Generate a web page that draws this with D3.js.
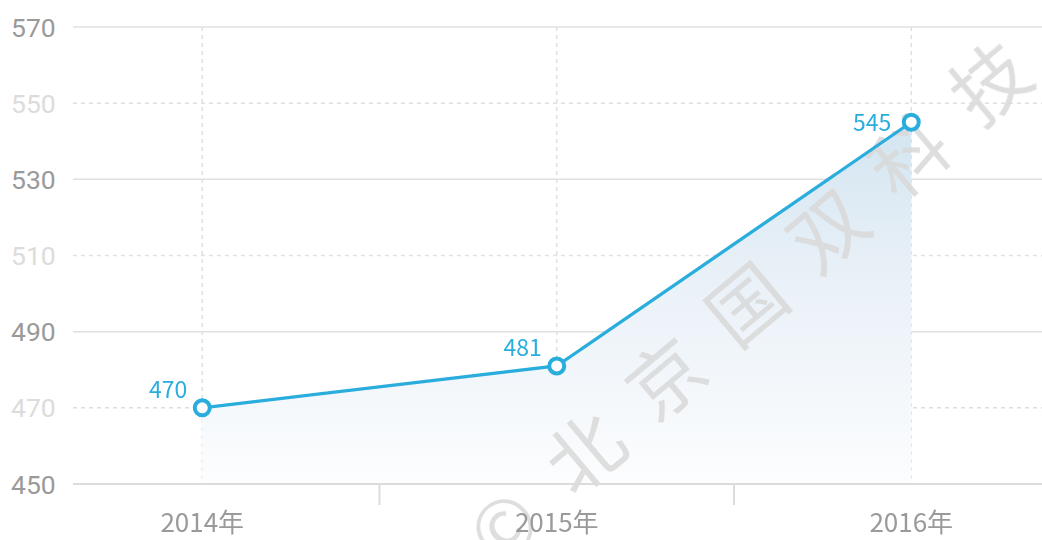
<!DOCTYPE html>
<meta charset="utf-8">
<style>
body { margin: 0; background: #fff; }
svg { font-family: "Noto Sans CJK SC", "Noto Sans", sans-serif; }
</style>
<body>
<svg width="1042" height="540"></svg>
<script src="https://cdn.jsdelivr.net/npm/d3@7"></script>
<script>

var years = ["2014年", "2015年", "2016年"];
var values = [470, 481, 545];
var yTicks = [450, 470, 490, 510, 530, 550, 570];
var watermark = "©北京国双科技";

var svg = d3.select("svg"),
    width = +svg.attr("width"),
    height = +svg.attr("height");

var gridLeft = 73, gridRight = 1042;

var x = d3.scaleBand().domain(years).range([25, 1088.5]);
var y = d3.scaleLinear().domain([450, 570]).range([484, 27]);

function cx(d) { return x(d) + x.bandwidth() / 2; }

// gradient for area
var defs = svg.append("defs");
var grad = defs.append("linearGradient")
    .attr("id", "areaGrad")
    .attr("gradientUnits", "userSpaceOnUse")
    .attr("x1", 0).attr("y1", y(545)).attr("x2", 0).attr("y2", y(450));
grad.append("stop").attr("offset", "0%").attr("stop-color", "#d3e5f1");
grad.append("stop").attr("offset", "40%").attr("stop-color", "#e8f0f7");
grad.append("stop").attr("offset", "100%").attr("stop-color", "#fcfdfe");

// horizontal grid
svg.append("g").selectAll("line")
  .data(yTicks)
  .enter().append("line")
    .attr("x1", gridLeft).attr("x2", gridRight)
    .attr("y1", function(d) { return y(d); })
    .attr("y2", function(d) { return y(d); })
    .attr("stroke", "#e0e0e0")
    .attr("stroke-width", 1.5)
    .attr("stroke-dasharray", function(d) { return (d - 450) % 40 === 0 ? null : "4,4"; });

// vertical dashed grid
svg.append("g").selectAll("line")
  .data(years)
  .enter().append("line")
    .attr("x1", cx).attr("x2", cx)
    .attr("y1", y(570)).attr("y2", y(450))
    .attr("stroke", "#e0e0e0")
    .attr("stroke-width", 1.5)
    .attr("stroke-dasharray", "4,4");

// y labels
svg.append("g").selectAll("text")
  .data(yTicks)
  .enter().append("text")
    .attr("x", 11)
    .attr("y", function(d) { return y(d); })
    .attr("dy", "0.36em")
    .style("font-family", "Roboto, 'Noto Sans', sans-serif")
    .style("font-size", "26.5px")
    .attr("fill", function(d) { return (d - 450) % 40 === 0 ? "#9a9a9a" : "#dcdcdc"; })
    .text(function(d) { return d; });

// area + line
var pts = years.map(function(d, i) { return [cx(d), y(values[i])]; });

svg.append("path")
    .datum(pts)
    .attr("fill", "url(#areaGrad)")
    .attr("d", d3.area().x(function(d) { return d[0]; }).y0(y(450)).y1(function(d) { return d[1]; }));

// watermark
var wm = svg.append("g").attr("fill", "#d9d9d9").attr("opacity", 0.85);
wm.selectAll("text")
  .data(watermark.split(""))
  .enter().append("text")
    .attr("transform", function(d, i) {
      var px = 505 + i * 81, py = 528 - i * 74;
      return "translate(" + px + "," + py + ") rotate(-40)";
    })
    .attr("text-anchor", "middle")
    .attr("dy", "0.35em")
    .style("font-size", "76px")
    .text(function(d) { return d; });

// x axis
svg.append("line")
    .attr("x1", gridLeft).attr("x2", gridRight)
    .attr("y1", y(450)).attr("y2", y(450))
    .attr("stroke", "#dcdcdc").attr("stroke-width", 2);

svg.append("g").selectAll("line")
  .data(years.slice(1))
  .enter().append("line")
    .attr("x1", function(d) { return x(d); }).attr("x2", function(d) { return x(d); })
    .attr("y1", y(450)).attr("y2", y(450) + 21)
    .attr("stroke", "#dcdcdc").attr("stroke-width", 2);

svg.append("g").selectAll("text")
  .data(years)
  .enter().append("text")
    .attr("x", cx)
    .attr("y", 532)
    .attr("text-anchor", "middle")
    .style("font-size", "26px")
    .attr("fill", "#9a9a9a")
    .text(function(d) { return d; });

svg.append("path")
    .datum(pts)
    .attr("fill", "none")
    .attr("stroke", "#2aaddd")
    .attr("stroke-width", 3.2)
    .attr("d", d3.line());

svg.append("g").selectAll("circle")
  .data(pts)
  .enter().append("circle")
    .attr("cx", function(d) { return d[0]; })
    .attr("cy", function(d) { return d[1]; })
    .attr("r", 7.5)
    .attr("fill", "#fff")
    .attr("stroke", "#2aaddd")
    .attr("stroke-width", 4);

// value labels: above-left, or beside the point when near the top
svg.append("g").selectAll("text")
  .data(values)
  .enter().append("text")
    .attr("x", function(d, i) { return pts[i][0] - (pts[i][1] < 150 ? 20 : 15); })
    .attr("y", function(d, i) { return pts[i][1] < 150 ? pts[i][1] + 9 : pts[i][1] - 10; })
    .attr("text-anchor", "end")
    .style("font-size", "23px")
    .attr("fill", "#2aaddd")
    .text(function(d) { return d; });

</script>
</body>
